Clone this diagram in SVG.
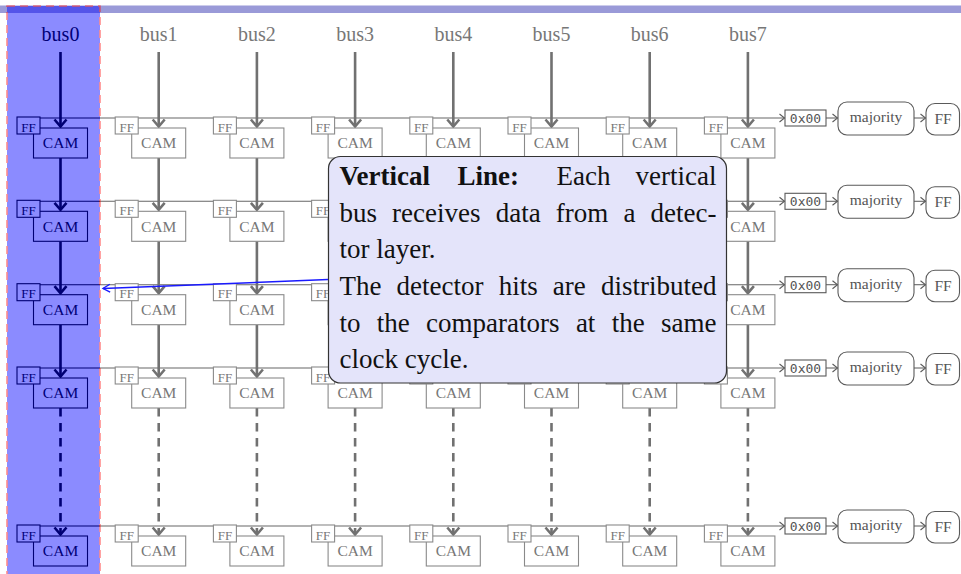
<svg xmlns="http://www.w3.org/2000/svg" width="961" height="574" viewBox="0 0 961 574" font-family="'Liberation Serif', 'DejaVu Serif', serif">
<style>
text,tspan{font-family:'Liberation Serif','DejaVu Serif',serif}
.lbl{font-size:20px;text-anchor:middle}
.cam rect{fill:#fff;stroke-width:1.1}
.cam text{font-size:15.5px;text-anchor:middle}
.ff rect{fill:#fff;stroke-width:1.1}
.ff text{font-size:13px;text-anchor:middle}
.gry rect{stroke:#8a8a8a}.gry text{fill:#777}
.blk rect{stroke:#000}.blk text{fill:#000}
.bus{fill:none;stroke-width:2.6}
.bus.gry{stroke:#717171}.bus.blk{stroke:#000}
.dash{stroke-dasharray:8.5 6.5}
.hl{fill:none;stroke-width:1.1}
.out rect{fill:#fff;stroke:#5a5a5a;stroke-width:1.1}
.out text{fill:#555;text-anchor:middle}
text.mono{font-family:'DejaVu Sans Mono','Liberation Mono',monospace;font-size:13px}
.maj{font-size:15.5px}
.co{font-size:27px;fill:#111}
.co.e{text-anchor:end}
</style>
<defs>
<marker id="ah" viewBox="0 0 8 10" refX="6" refY="5" markerWidth="8" markerHeight="10" markerUnits="userSpaceOnUse" orient="auto" overflow="visible">
<path d="M1,1 L6,5 L1,9" fill="none" stroke="#5a5a5a" stroke-width="1.1"/>
</marker>
<marker id="ahb" viewBox="0 0 10 10" refX="8" refY="5" markerWidth="10" markerHeight="10" markerUnits="userSpaceOnUse" orient="auto" overflow="visible">
<path d="M1,1 L8,5 L1,9" fill="none" stroke="#1a1aff" stroke-width="1.4"/>
</marker>
</defs>
<rect x="0" y="5.5" width="961" height="7.5" fill="#9a9ad8"/>
<g id="labels">
<g id="bus0" class="blk"><text class="lbl" x="60.5" y="41">bus0</text></g>
<g id="bus1" class="gry"><text class="lbl" x="158.7" y="41">bus1</text></g>
<g id="bus2" class="gry"><text class="lbl" x="256.9" y="41">bus2</text></g>
<g id="bus3" class="gry"><text class="lbl" x="355.1" y="41">bus3</text></g>
<g id="bus4" class="gry"><text class="lbl" x="453.3" y="41">bus4</text></g>
<g id="bus5" class="gry"><text class="lbl" x="551.5" y="41">bus5</text></g>
<g id="bus6" class="gry"><text class="lbl" x="649.7" y="41">bus6</text></g>
<g id="bus7" class="gry"><text class="lbl" x="747.9" y="41">bus7</text></g>
</g>
<g id="connectors">
<g stroke="#000" class="hl"><path class="hl" d="M28,118H100M28,201.3H100M28,284.7H100M28,368H100M28,526H100"/></g>
<g stroke="#666" class="hl">
<path class="hl" d="M100,118H784.5" marker-end="url(#ah)"/>
<path class="hl" d="M100,201.3H784.5" marker-end="url(#ah)"/>
<path class="hl" d="M100,284.7H784.5" marker-end="url(#ah)"/>
<path class="hl" d="M100,368H784.5" marker-end="url(#ah)"/>
<path class="hl" d="M100,526H784.5" marker-end="url(#ah)"/>
<path class="hl" d="M826,118H837.5" marker-end="url(#ah)"/><path class="hl" d="M914,118H925.5" marker-end="url(#ah)"/>
<path class="hl" d="M826,201.3H837.5" marker-end="url(#ah)"/><path class="hl" d="M914,201.3H925.5" marker-end="url(#ah)"/>
<path class="hl" d="M826,284.7H837.5" marker-end="url(#ah)"/><path class="hl" d="M914,284.7H925.5" marker-end="url(#ah)"/>
<path class="hl" d="M826,368H837.5" marker-end="url(#ah)"/><path class="hl" d="M914,368H925.5" marker-end="url(#ah)"/>
<path class="hl" d="M826,526H837.5" marker-end="url(#ah)"/><path class="hl" d="M914,526H925.5" marker-end="url(#ah)"/>
</g>
<g id="buslines">
<g class="bus blk" transform="translate(60.5,0)"><path d="M0,52V126M0,158V209.3M0,241.3V292.7M0,324.7V376"/><path class="dash" d="M0,408V534"/><path d="M-6,119.5L0,126.5L6,119.5M-6,202.8L0,209.8L6,202.8M-6,286.2L0,293.2L6,286.2M-6,369.5L0,376.5L6,369.5M-6,527.5L0,534.5L6,527.5"/></g>
<g class="bus gry" transform="translate(158.7,0)"><path d="M0,52V126M0,158V209.3M0,241.3V292.7M0,324.7V376"/><path class="dash" d="M0,408V534"/><path d="M-6,119.5L0,126.5L6,119.5M-6,202.8L0,209.8L6,202.8M-6,286.2L0,293.2L6,286.2M-6,369.5L0,376.5L6,369.5M-6,527.5L0,534.5L6,527.5"/></g>
<g class="bus gry" transform="translate(256.9,0)"><path d="M0,52V126M0,158V209.3M0,241.3V292.7M0,324.7V376"/><path class="dash" d="M0,408V534"/><path d="M-6,119.5L0,126.5L6,119.5M-6,202.8L0,209.8L6,202.8M-6,286.2L0,293.2L6,286.2M-6,369.5L0,376.5L6,369.5M-6,527.5L0,534.5L6,527.5"/></g>
<g class="bus gry" transform="translate(355.1,0)"><path d="M0,52V126M0,158V209.3M0,241.3V292.7M0,324.7V376"/><path class="dash" d="M0,408V534"/><path d="M-6,119.5L0,126.5L6,119.5M-6,202.8L0,209.8L6,202.8M-6,286.2L0,293.2L6,286.2M-6,369.5L0,376.5L6,369.5M-6,527.5L0,534.5L6,527.5"/></g>
<g class="bus gry" transform="translate(453.3,0)"><path d="M0,52V126M0,158V209.3M0,241.3V292.7M0,324.7V376"/><path class="dash" d="M0,408V534"/><path d="M-6,119.5L0,126.5L6,119.5M-6,202.8L0,209.8L6,202.8M-6,286.2L0,293.2L6,286.2M-6,369.5L0,376.5L6,369.5M-6,527.5L0,534.5L6,527.5"/></g>
<g class="bus gry" transform="translate(551.5,0)"><path d="M0,52V126M0,158V209.3M0,241.3V292.7M0,324.7V376"/><path class="dash" d="M0,408V534"/><path d="M-6,119.5L0,126.5L6,119.5M-6,202.8L0,209.8L6,202.8M-6,286.2L0,293.2L6,286.2M-6,369.5L0,376.5L6,369.5M-6,527.5L0,534.5L6,527.5"/></g>
<g class="bus gry" transform="translate(649.7,0)"><path d="M0,52V126M0,158V209.3M0,241.3V292.7M0,324.7V376"/><path class="dash" d="M0,408V534"/><path d="M-6,119.5L0,126.5L6,119.5M-6,202.8L0,209.8L6,202.8M-6,286.2L0,293.2L6,286.2M-6,369.5L0,376.5L6,369.5M-6,527.5L0,534.5L6,527.5"/></g>
<g class="bus gry" transform="translate(747.9,0)"><path d="M0,52V126M0,158V209.3M0,241.3V292.7M0,324.7V376"/><path class="dash" d="M0,408V534"/><path d="M-6,119.5L0,126.5L6,119.5M-6,202.8L0,209.8L6,202.8M-6,286.2L0,293.2L6,286.2M-6,369.5L0,376.5L6,369.5M-6,527.5L0,534.5L6,527.5"/></g>
</g>
</g>
<g id="cells">
<g id="r0c0" class="blk" transform="translate(60.5,118)"><g id="cam-r0c0" class="cam"><rect x="-27" y="10" width="54" height="30"/><text x="0" y="30.3">CAM</text></g><g id="ff-r0c0" class="ff"><rect x="-43.5" y="-1" width="23" height="17"/><text x="-32" y="13.5">FF</text></g></g>
<g id="r0c1" class="gry" transform="translate(158.7,118)"><g id="cam-r0c1" class="cam"><rect x="-27" y="10" width="54" height="30"/><text x="0" y="30.3">CAM</text></g><g id="ff-r0c1" class="ff"><rect x="-43.5" y="-1" width="23" height="17"/><text x="-32" y="13.5">FF</text></g></g>
<g id="r0c2" class="gry" transform="translate(256.9,118)"><g id="cam-r0c2" class="cam"><rect x="-27" y="10" width="54" height="30"/><text x="0" y="30.3">CAM</text></g><g id="ff-r0c2" class="ff"><rect x="-43.5" y="-1" width="23" height="17"/><text x="-32" y="13.5">FF</text></g></g>
<g id="r0c3" class="gry" transform="translate(355.1,118)"><g id="cam-r0c3" class="cam"><rect x="-27" y="10" width="54" height="30"/><text x="0" y="30.3">CAM</text></g><g id="ff-r0c3" class="ff"><rect x="-43.5" y="-1" width="23" height="17"/><text x="-32" y="13.5">FF</text></g></g>
<g id="r0c4" class="gry" transform="translate(453.3,118)"><g id="cam-r0c4" class="cam"><rect x="-27" y="10" width="54" height="30"/><text x="0" y="30.3">CAM</text></g><g id="ff-r0c4" class="ff"><rect x="-43.5" y="-1" width="23" height="17"/><text x="-32" y="13.5">FF</text></g></g>
<g id="r0c5" class="gry" transform="translate(551.5,118)"><g id="cam-r0c5" class="cam"><rect x="-27" y="10" width="54" height="30"/><text x="0" y="30.3">CAM</text></g><g id="ff-r0c5" class="ff"><rect x="-43.5" y="-1" width="23" height="17"/><text x="-32" y="13.5">FF</text></g></g>
<g id="r0c6" class="gry" transform="translate(649.7,118)"><g id="cam-r0c6" class="cam"><rect x="-27" y="10" width="54" height="30"/><text x="0" y="30.3">CAM</text></g><g id="ff-r0c6" class="ff"><rect x="-43.5" y="-1" width="23" height="17"/><text x="-32" y="13.5">FF</text></g></g>
<g id="r0c7" class="gry" transform="translate(747.9,118)"><g id="cam-r0c7" class="cam"><rect x="-27" y="10" width="54" height="30"/><text x="0" y="30.3">CAM</text></g><g id="ff-r0c7" class="ff"><rect x="-43.5" y="-1" width="23" height="17"/><text x="-32" y="13.5">FF</text></g></g>

<g id="r1c0" class="blk" transform="translate(60.5,201.3)"><g id="cam-r1c0" class="cam"><rect x="-27" y="10" width="54" height="30"/><text x="0" y="30.3">CAM</text></g><g id="ff-r1c0" class="ff"><rect x="-43.5" y="-1" width="23" height="17"/><text x="-32" y="13.5">FF</text></g></g>
<g id="r1c1" class="gry" transform="translate(158.7,201.3)"><g id="cam-r1c1" class="cam"><rect x="-27" y="10" width="54" height="30"/><text x="0" y="30.3">CAM</text></g><g id="ff-r1c1" class="ff"><rect x="-43.5" y="-1" width="23" height="17"/><text x="-32" y="13.5">FF</text></g></g>
<g id="r1c2" class="gry" transform="translate(256.9,201.3)"><g id="cam-r1c2" class="cam"><rect x="-27" y="10" width="54" height="30"/><text x="0" y="30.3">CAM</text></g><g id="ff-r1c2" class="ff"><rect x="-43.5" y="-1" width="23" height="17"/><text x="-32" y="13.5">FF</text></g></g>
<g id="r1c3" class="gry" transform="translate(355.1,201.3)"><g id="cam-r1c3" class="cam"><rect x="-27" y="10" width="54" height="30"/></g><g id="ff-r1c3" class="ff"><rect x="-43.5" y="-1" width="23" height="17"/><text x="-32" y="13.5">FF</text></g></g>
<g id="r1c4" class="gry" transform="translate(453.3,201.3)"><g id="cam-r1c4" class="cam"><rect x="-27" y="10" width="54" height="30"/></g><g id="ff-r1c4" class="ff"><rect x="-43.5" y="-1" width="23" height="17"/></g></g>
<g id="r1c5" class="gry" transform="translate(551.5,201.3)"><g id="cam-r1c5" class="cam"><rect x="-27" y="10" width="54" height="30"/></g><g id="ff-r1c5" class="ff"><rect x="-43.5" y="-1" width="23" height="17"/></g></g>
<g id="r1c6" class="gry" transform="translate(649.7,201.3)"><g id="cam-r1c6" class="cam"><rect x="-27" y="10" width="54" height="30"/></g><g id="ff-r1c6" class="ff"><rect x="-43.5" y="-1" width="23" height="17"/></g></g>
<g id="r1c7" class="gry" transform="translate(747.9,201.3)"><g id="cam-r1c7" class="cam"><rect x="-27" y="10" width="54" height="30"/><text x="0" y="30.3">CAM</text></g><g id="ff-r1c7" class="ff"><rect x="-43.5" y="-1" width="23" height="17"/></g></g>

<g id="r2c0" class="blk" transform="translate(60.5,284.7)"><g id="cam-r2c0" class="cam"><rect x="-27" y="10" width="54" height="30"/><text x="0" y="30.3">CAM</text></g><g id="ff-r2c0" class="ff"><rect x="-43.5" y="-1" width="23" height="17"/><text x="-32" y="13.5">FF</text></g></g>
<g id="r2c1" class="gry" transform="translate(158.7,284.7)"><g id="cam-r2c1" class="cam"><rect x="-27" y="10" width="54" height="30"/><text x="0" y="30.3">CAM</text></g><g id="ff-r2c1" class="ff"><rect x="-43.5" y="-1" width="23" height="17"/><text x="-32" y="13.5">FF</text></g></g>
<g id="r2c2" class="gry" transform="translate(256.9,284.7)"><g id="cam-r2c2" class="cam"><rect x="-27" y="10" width="54" height="30"/><text x="0" y="30.3">CAM</text></g><g id="ff-r2c2" class="ff"><rect x="-43.5" y="-1" width="23" height="17"/><text x="-32" y="13.5">FF</text></g></g>
<g id="r2c3" class="gry" transform="translate(355.1,284.7)"><g id="cam-r2c3" class="cam"><rect x="-27" y="10" width="54" height="30"/></g><g id="ff-r2c3" class="ff"><rect x="-43.5" y="-1" width="23" height="17"/><text x="-32" y="13.5">FF</text></g></g>
<g id="r2c4" class="gry" transform="translate(453.3,284.7)"><g id="cam-r2c4" class="cam"><rect x="-27" y="10" width="54" height="30"/></g><g id="ff-r2c4" class="ff"><rect x="-43.5" y="-1" width="23" height="17"/></g></g>
<g id="r2c5" class="gry" transform="translate(551.5,284.7)"><g id="cam-r2c5" class="cam"><rect x="-27" y="10" width="54" height="30"/></g><g id="ff-r2c5" class="ff"><rect x="-43.5" y="-1" width="23" height="17"/></g></g>
<g id="r2c6" class="gry" transform="translate(649.7,284.7)"><g id="cam-r2c6" class="cam"><rect x="-27" y="10" width="54" height="30"/></g><g id="ff-r2c6" class="ff"><rect x="-43.5" y="-1" width="23" height="17"/></g></g>
<g id="r2c7" class="gry" transform="translate(747.9,284.7)"><g id="cam-r2c7" class="cam"><rect x="-27" y="10" width="54" height="30"/><text x="0" y="30.3">CAM</text></g><g id="ff-r2c7" class="ff"><rect x="-43.5" y="-1" width="23" height="17"/></g></g>

<g id="r3c0" class="blk" transform="translate(60.5,368)"><g id="cam-r3c0" class="cam"><rect x="-27" y="10" width="54" height="30"/><text x="0" y="30.3">CAM</text></g><g id="ff-r3c0" class="ff"><rect x="-43.5" y="-1" width="23" height="17"/><text x="-32" y="13.5">FF</text></g></g>
<g id="r3c1" class="gry" transform="translate(158.7,368)"><g id="cam-r3c1" class="cam"><rect x="-27" y="10" width="54" height="30"/><text x="0" y="30.3">CAM</text></g><g id="ff-r3c1" class="ff"><rect x="-43.5" y="-1" width="23" height="17"/><text x="-32" y="13.5">FF</text></g></g>
<g id="r3c2" class="gry" transform="translate(256.9,368)"><g id="cam-r3c2" class="cam"><rect x="-27" y="10" width="54" height="30"/><text x="0" y="30.3">CAM</text></g><g id="ff-r3c2" class="ff"><rect x="-43.5" y="-1" width="23" height="17"/><text x="-32" y="13.5">FF</text></g></g>
<g id="r3c3" class="gry" transform="translate(355.1,368)"><g id="cam-r3c3" class="cam"><rect x="-27" y="10" width="54" height="30"/><text x="0" y="30.3">CAM</text></g><g id="ff-r3c3" class="ff"><rect x="-43.5" y="-1" width="23" height="17"/><text x="-32" y="13.5">FF</text></g></g>
<g id="r3c4" class="gry" transform="translate(453.3,368)"><g id="cam-r3c4" class="cam"><rect x="-27" y="10" width="54" height="30"/><text x="0" y="30.3">CAM</text></g><g id="ff-r3c4" class="ff"><rect x="-43.5" y="-1" width="23" height="17"/></g></g>
<g id="r3c5" class="gry" transform="translate(551.5,368)"><g id="cam-r3c5" class="cam"><rect x="-27" y="10" width="54" height="30"/><text x="0" y="30.3">CAM</text></g><g id="ff-r3c5" class="ff"><rect x="-43.5" y="-1" width="23" height="17"/></g></g>
<g id="r3c6" class="gry" transform="translate(649.7,368)"><g id="cam-r3c6" class="cam"><rect x="-27" y="10" width="54" height="30"/><text x="0" y="30.3">CAM</text></g><g id="ff-r3c6" class="ff"><rect x="-43.5" y="-1" width="23" height="17"/></g></g>
<g id="r3c7" class="gry" transform="translate(747.9,368)"><g id="cam-r3c7" class="cam"><rect x="-27" y="10" width="54" height="30"/><text x="0" y="30.3">CAM</text></g><g id="ff-r3c7" class="ff"><rect x="-43.5" y="-1" width="23" height="17"/></g></g>

<g id="r4c0" class="blk" transform="translate(60.5,526)"><g id="cam-r4c0" class="cam"><rect x="-27" y="10" width="54" height="30"/><text x="0" y="30.3">CAM</text></g><g id="ff-r4c0" class="ff"><rect x="-43.5" y="-1" width="23" height="17"/><text x="-32" y="13.5">FF</text></g></g>
<g id="r4c1" class="gry" transform="translate(158.7,526)"><g id="cam-r4c1" class="cam"><rect x="-27" y="10" width="54" height="30"/><text x="0" y="30.3">CAM</text></g><g id="ff-r4c1" class="ff"><rect x="-43.5" y="-1" width="23" height="17"/><text x="-32" y="13.5">FF</text></g></g>
<g id="r4c2" class="gry" transform="translate(256.9,526)"><g id="cam-r4c2" class="cam"><rect x="-27" y="10" width="54" height="30"/><text x="0" y="30.3">CAM</text></g><g id="ff-r4c2" class="ff"><rect x="-43.5" y="-1" width="23" height="17"/><text x="-32" y="13.5">FF</text></g></g>
<g id="r4c3" class="gry" transform="translate(355.1,526)"><g id="cam-r4c3" class="cam"><rect x="-27" y="10" width="54" height="30"/><text x="0" y="30.3">CAM</text></g><g id="ff-r4c3" class="ff"><rect x="-43.5" y="-1" width="23" height="17"/><text x="-32" y="13.5">FF</text></g></g>
<g id="r4c4" class="gry" transform="translate(453.3,526)"><g id="cam-r4c4" class="cam"><rect x="-27" y="10" width="54" height="30"/><text x="0" y="30.3">CAM</text></g><g id="ff-r4c4" class="ff"><rect x="-43.5" y="-1" width="23" height="17"/><text x="-32" y="13.5">FF</text></g></g>
<g id="r4c5" class="gry" transform="translate(551.5,526)"><g id="cam-r4c5" class="cam"><rect x="-27" y="10" width="54" height="30"/><text x="0" y="30.3">CAM</text></g><g id="ff-r4c5" class="ff"><rect x="-43.5" y="-1" width="23" height="17"/><text x="-32" y="13.5">FF</text></g></g>
<g id="r4c6" class="gry" transform="translate(649.7,526)"><g id="cam-r4c6" class="cam"><rect x="-27" y="10" width="54" height="30"/><text x="0" y="30.3">CAM</text></g><g id="ff-r4c6" class="ff"><rect x="-43.5" y="-1" width="23" height="17"/><text x="-32" y="13.5">FF</text></g></g>
<g id="r4c7" class="gry" transform="translate(747.9,526)"><g id="cam-r4c7" class="cam"><rect x="-27" y="10" width="54" height="30"/><text x="0" y="30.3">CAM</text></g><g id="ff-r4c7" class="ff"><rect x="-43.5" y="-1" width="23" height="17"/><text x="-32" y="13.5">FF</text></g></g>
</g>
<g id="outputs">
<g id="out-r0" class="out" transform="translate(0,118)"><g id="init-r0"><rect x="785" y="-8" width="41" height="16"/><text class="mono" x="805.5" y="5">0x00</text></g><g id="maj-r0"><rect x="838" y="-16" width="76" height="33" rx="9"/><text class="maj" x="876" y="4">majority</text></g><g id="ffo-r0"><rect x="926" y="-14.5" width="33.5" height="31.5" rx="9"/><text class="maj" x="943" y="6">FF</text></g></g>
<g id="out-r1" class="out" transform="translate(0,201.3)"><g id="init-r1"><rect x="785" y="-8" width="41" height="16"/><text class="mono" x="805.5" y="5">0x00</text></g><g id="maj-r1"><rect x="838" y="-16" width="76" height="33" rx="9"/><text class="maj" x="876" y="4">majority</text></g><g id="ffo-r1"><rect x="926" y="-14.5" width="33.5" height="31.5" rx="9"/><text class="maj" x="943" y="6">FF</text></g></g>
<g id="out-r2" class="out" transform="translate(0,284.7)"><g id="init-r2"><rect x="785" y="-8" width="41" height="16"/><text class="mono" x="805.5" y="5">0x00</text></g><g id="maj-r2"><rect x="838" y="-16" width="76" height="33" rx="9"/><text class="maj" x="876" y="4">majority</text></g><g id="ffo-r2"><rect x="926" y="-14.5" width="33.5" height="31.5" rx="9"/><text class="maj" x="943" y="6">FF</text></g></g>
<g id="out-r3" class="out" transform="translate(0,368)"><g id="init-r3"><rect x="785" y="-8" width="41" height="16"/><text class="mono" x="805.5" y="5">0x00</text></g><g id="maj-r3"><rect x="838" y="-16" width="76" height="33" rx="9"/><text class="maj" x="876" y="4">majority</text></g><g id="ffo-r3"><rect x="926" y="-14.5" width="33.5" height="31.5" rx="9"/><text class="maj" x="943" y="6">FF</text></g></g>
<g id="out-r4" class="out" transform="translate(0,526)"><g id="init-r4"><rect x="785" y="-8" width="41" height="16"/><text class="mono" x="805.5" y="5">0x00</text></g><g id="maj-r4"><rect x="838" y="-16" width="76" height="33" rx="9"/><text class="maj" x="876" y="4">majority</text></g><g id="ffo-r4"><rect x="926" y="-14.5" width="33.5" height="31.5" rx="9"/><text class="maj" x="943" y="6">FF</text></g></g>
</g>
<g id="highlight" opacity="0.45">
<rect x="7" y="6" width="93" height="590" fill="#0000ff" stroke="#ff0000" stroke-width="1.6" stroke-dasharray="8 5"/>
</g>
<g id="callout">
<rect x="328.5" y="156.5" width="398" height="226.5" rx="12" fill="#e4e4fa" stroke="#333" stroke-width="1.2"/>
<text class="co" y="185"><tspan x="339.5" font-weight="bold">Vertical</tspan><tspan x="457.5" font-weight="bold">Line:</tspan><tspan x="556.5">Each</tspan></text>
<text class="co e" x="716.5" y="185">vertical</text>
<text class="co" y="221.7"><tspan x="339.5">bus</tspan><tspan x="392.1">receives</tspan><tspan x="495.7">data</tspan><tspan x="555.8">from</tspan><tspan x="623.4">a</tspan></text>
<text class="co e" x="716.5" y="221.7">detec-</text>
<text class="co" x="339.5" y="258.2">tor layer.</text>
<text class="co" y="294.8"><tspan x="339.5">The</tspan><tspan x="396.6">detector</tspan><tspan x="498.7">hits</tspan><tspan x="552.8">are</tspan></text>
<text class="co e" x="716.5" y="294.8">distributed</text>
<text class="co" y="331.5"><tspan x="339.5">to</tspan><tspan x="376.8">the</tspan><tspan x="426.1">comparators</tspan><tspan x="575.9">at</tspan><tspan x="611.7">the</tspan></text>
<text class="co e" x="716.5" y="331.5">same</text>
<text class="co" x="339.5" y="367.5">clock cycle.</text>
</g>
<g id="pointer">
<path d="M328,279.5 L103,288.5" fill="none" stroke="#1a1aff" stroke-width="1.5" marker-end="url(#ahb)"/>
</g>
</svg>
